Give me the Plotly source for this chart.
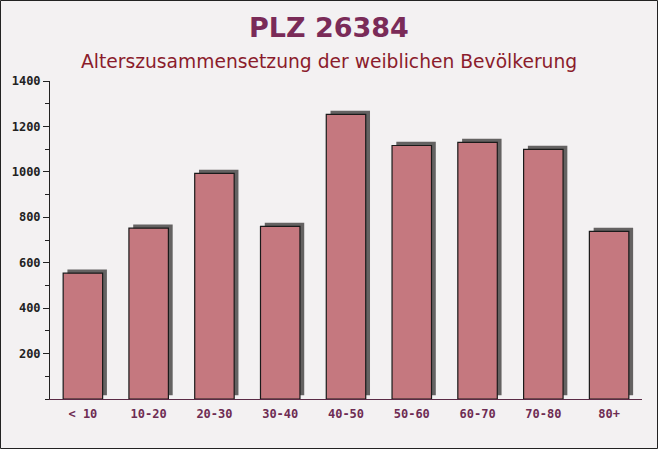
import plotly.graph_objects as go

categories = ["< 10", "10-20", "20-30", "30-40", "40-50", "50-60", "60-70", "70-80", "80+"]
values = [554, 752, 993, 760, 1253, 1116, 1130, 1099, 738]
y_ticks = [200, 400, 600, 800, 1000, 1200, 1400]
title_text = "PLZ 26384"
subtitle_text = "Alterszusammensetzung der weiblichen Bevölkerung"

W, H = 658, 449
ML, MR, MT, MB = 50, 16, 81, 50
PW, PH = W - ML - MR, H - MT - MB

shadow_lift = 16  # data units, visual depth of shadow

fig = go.Figure()
# shadow (3D depth) drawn behind each bar
fig.add_trace(go.Bar(
    x=categories, y=values, base=[shadow_lift] * len(values),
    width=0.6, offset=-0.3 + 0.065,
    marker=dict(color="#646262", line=dict(width=0)),
    hoverinfo="skip", showlegend=False,
))
fig.add_trace(go.Bar(
    x=categories, y=values,
    width=0.6, offset=-0.3,
    marker=dict(color="#c5787f", line=dict(color="#1a1a1a", width=1.2)),
    showlegend=False,
))

fig.update_layout(
    width=W, height=H,
    margin=dict(l=ML, r=MR, t=MT, b=MB, pad=0),
    barmode="overlay",
    paper_bgcolor="#f3f1f2",
    plot_bgcolor="rgba(0,0,0,0)",
    xaxis=dict(
        type="category", range=[-0.5, len(categories) - 0.5],
        showgrid=False, showline=True, linecolor="#5a2a45", linewidth=1,
        ticks="", ticklabelstandoff=4,
        tickfont=dict(family="DejaVu Sans Mono", size=12, color="#6e2c53", weight="bold"),
        fixedrange=True,
    ),
    yaxis=dict(
        range=[0, 1400], tickvals=y_ticks,
        showgrid=False, showline=True, linecolor="#222", linewidth=1,
        ticks="outside", ticklen=6, tickcolor="#222",
        minor=dict(dtick=100, ticks="outside", ticklen=4, tickcolor="#222"),
        tickfont=dict(family="DejaVu Sans Mono", size=12, color="#222", weight="bold"),
        zeroline=False, fixedrange=True,
    ),
    annotations=[
        dict(text=title_text, xref="paper", yref="paper", x=(329 - ML) / PW, y=1 + (MT - 28) / PH,
             xanchor="center", yanchor="middle", showarrow=False,
             font=dict(family="DejaVu Sans", size=27, color="#7a2b58", weight="bold")),
        dict(text=subtitle_text, xref="paper", yref="paper", x=(329 - ML) / PW, y=1 + (MT - 62) / PH,
             xanchor="center", yanchor="middle", showarrow=False,
             font=dict(family="DejaVu Sans", size=18.7, color="#8b1c2c")),
    ],
    shapes=[dict(type="rect", xref="paper", yref="paper",
                 x0=-ML / PW + 0.5 / PW, x1=1 + MR / PW - 0.5 / PW,
                 y0=-MB / PH + 0.5 / PH, y1=1 + MT / PH - 0.5 / PH,
                 line=dict(color="#222", width=1), layer="above")],
)

fig.write_html("out.html")
